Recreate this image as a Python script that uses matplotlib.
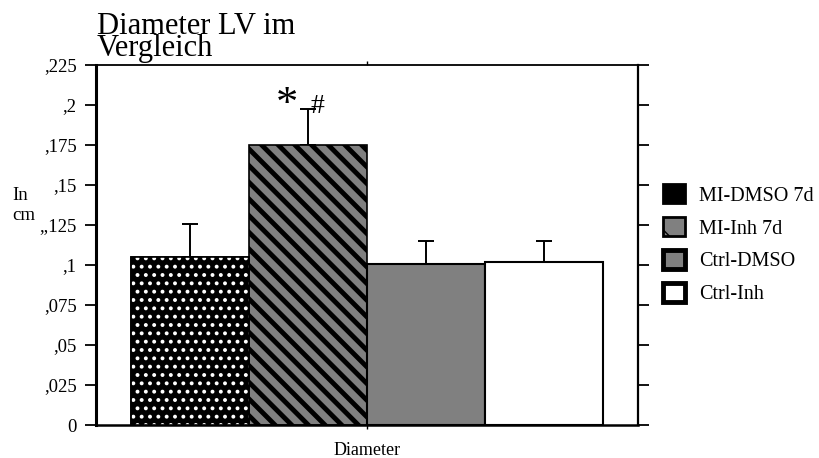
import numpy as np
import matplotlib
matplotlib.use("Agg")
import matplotlib.pyplot as plt
from matplotlib.patches import Patch

plt.rcParams['font.family'] = ['Liberation Serif', 'DejaVu Serif']

# group means and upper error (cm)
groups = ['MI-DMSO 7d', 'MI-Inh 7d', 'Ctrl-DMSO', 'Ctrl-Inh']
means = [0.105, 0.175, 0.1005, 0.102]
errors = [0.0205, 0.0225, 0.0145, 0.013]
yticks = [0, 0.025, 0.05, 0.075, 0.1, 0.125, 0.15, 0.175, 0.2, 0.225]
ytick_labels = ['0', ',025', ',05', ',075', ',1', ',,125', ',15', ',175', ',2', ',225']

fig = plt.figure(figsize=(8.2, 4.58), dpi=100)
ax = fig.add_axes([96 / 820, 33 / 458, 542 / 820, 360 / 458])

x = np.arange(len(groups))
w = 1.0
gray = '#808080'


def hatched_bar(xpos, height, lw_hatch, **kw):
    with plt.rc_context({'hatch.linewidth': lw_hatch}):
        bars = ax.bar(xpos, height, w, **kw)
    for p in bars:
        if hasattr(p, 'set_hatch_linewidth'):
            p.set_hatch_linewidth(lw_hatch)
    return bars


# MI-DMSO: black with small white dots
ax.bar(x[0], means[0], w, color='black', edgecolor='black', linewidth=1.2, zorder=2)
hatched_bar(x[0], means[0], 1.6, facecolor='none', edgecolor='white', hatch='..',
            linewidth=0, zorder=3)
ax.bar(x[0], means[0], w, facecolor='none', edgecolor='black', linewidth=1.2, zorder=4)

# MI-Inh: gray with thick black diagonal stripes
hatched_bar(x[1], means[1], 3.5, facecolor=gray, edgecolor='black', hatch='\\\\',
            linewidth=1.2, zorder=2)

# controls
ax.bar(x[2], means[2], w, facecolor=gray, edgecolor='black', linewidth=1.5, zorder=2)
ax.bar(x[3], means[3], w, facecolor='white', edgecolor='black', linewidth=1.5, zorder=2)

ax.errorbar(x, means, yerr=[np.zeros(len(errors)), errors], fmt='none',
            ecolor='black', elinewidth=1.4, capsize=6, capthick=1.4, zorder=1)

# significance marks above MI-Inh
ax.text(x[1] - 0.18, 0.1875, '*', fontsize=32, ha='center', va='bottom')
ax.text(x[1] + 0.017, 0.1915, '#', fontsize=20, ha='left', va='bottom')

ax.set_xlim(-0.8, 3.8)
ax.set_ylim(0, 0.225)
ax.set_yticks(yticks)
ax.set_yticklabels(ytick_labels, fontsize=13.5)
ax.tick_params(axis='y', direction='out', length=8, width=1.3, pad=6, right=True)
ax.set_xticks([1.5])
ax.set_xticklabels(['Diameter'], fontsize=13)
ax.tick_params(axis='x', direction='out', length=3, width=1, pad=9, top=True)

ax.spines['left'].set_linewidth(2.2)
ax.spines['bottom'].set_linewidth(1.8)
ax.spines['top'].set_linewidth(1.3)
ax.spines['right'].set_linewidth(1.6)
ax.spines['left'].set_zorder(5)

fig.text(97 / 820, 1 - 12 / 458, 'Diameter LV im\nVergleich', fontsize=22,
         ha='left', va='top', linespacing=0.66)
fig.text(12 / 820, 1 - 187 / 458, 'In\ncm', fontsize=13.5, ha='left', va='top',
         linespacing=1.25)

handles = [
    Patch(facecolor='black', edgecolor='black', linewidth=2),
    Patch(facecolor=gray, edgecolor='black', hatch='\\', linewidth=2),
    Patch(facecolor=gray, edgecolor='black', linewidth=3.5),
    Patch(facecolor='white', edgecolor='black', linewidth=3.5),
]
fig.legend(handles, groups, loc='upper left', bbox_to_anchor=(663 / 820, 1 - 184 / 458),
           frameon=False, fontsize=14.5, handlelength=1.1, handleheight=1.1,
           handletextpad=0.7, labelspacing=0.57, borderpad=0, borderaxespad=0)

fig.savefig('out.png', dpi=100)
